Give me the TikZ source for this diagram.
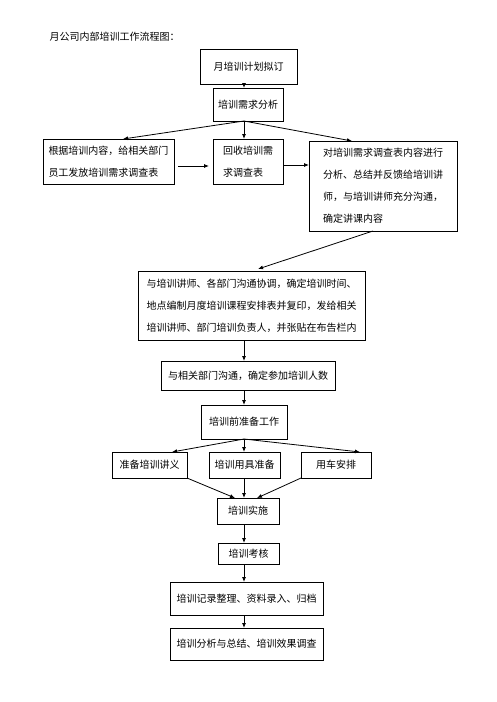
\documentclass[tikz,border=0pt]{standalone}
\usepackage{fontspec}
\setmainfont{Noto Sans CJK SC}
\usetikzlibrary{arrows.meta}

\begin{document}
\begin{tikzpicture}[x=1pt,y=-1pt,->,>={Latex[length=5pt,width=4pt]},line width=0.8pt]
\tikzstyle{box}=[draw,shape=rectangle,inner sep=0pt,outer sep=0pt,align=left,text=black,font=\fontsize{10}{22}\selectfont]
\useasboundingbox (0,0) rectangle (496,702);

\node[anchor=west,font=\fontsize{10}{12}\selectfont] (title) at (46,37) {月公司内部培训工作流程图：};
\coordinate (spine) at (244,0);

\node[box,minimum width=97pt,minimum height=35pt]  (A) at (248.5,66.5) {月培训计划拟订};
\node[box,minimum width=70pt,minimum height=33pt]  (B) at (248,104.5) {培训需求分析};
\node[box,minimum width=131pt,minimum height=45pt] (C) at (108.5,161.5) {根据培训内容，给相关部门\\员工发放培训需求调查表};
\node[box,minimum width=70pt,minimum height=45pt]  (D) at (248,161.5) {回收培训需\\求调查表};
\node[box,minimum width=148pt,minimum height=90pt] (E) at (383,186) {对培训需求调查表内容进行\\分析、总结并反馈给培训讲\\师，与培训讲师充分沟通，\\确定讲课内容};
\node[box,minimum width=227pt,minimum height=69pt] (F) at (251.5,305.5) {与培训讲师、各部门沟通协调，确定培训时间、\\地点编制月度培训课程安排表并复印，发给相关\\培训讲师、部门培训负责人，并张贴在布告栏内};
\node[box,minimum width=174pt,minimum height=29pt] (G) at (248,375.5) {与相关部门沟通，确定参加培训人数};
\node[box,minimum width=86pt,minimum height=34pt]  (H) at (244,422) {培训前准备工作};
\node[box,minimum width=75pt,minimum height=26pt]  (I1) at (149.5,465) {准备培训讲义};
\node[box,minimum width=71pt,minimum height=26pt]  (I2) at (244.5,465) {培训用具准备};
\node[box,minimum width=70pt,minimum height=26pt]  (I3) at (336,465) {用车安排};
\node[box,minimum width=62pt,minimum height=26pt]  (J) at (248,511) {培训实施};
\node[box,minimum width=61pt,minimum height=21pt]  (K) at (248.5,553.5) {培训考核};
\node[box,minimum width=153pt,minimum height=33pt] (L) at (246.5,598.5) {培训记录整理、资料录入、归档};
\node[box,minimum width=153pt,minimum height=32pt] (M) at (246.5,644) {培训分析与总结、培训效果调查};

\path
(A.south -| spine) edge (B.north -| spine)
(B.south -| spine) edge ([xshift=14.5pt]C.north)
(B.south -| spine) edge (D.north -| spine)
(B.south -| spine) edge ([xshift=-31pt]E.north)
([xshift=4pt,yshift=-4.5pt]C.east) edge ([xshift=-4pt,yshift=-4.5pt]D.west)
([yshift=-3.5pt]D.east) edge ([yshift=-3.5pt]D.east -| E.west)
([xshift=-10pt]E.south) edge ([xshift=6.5pt,yshift=2pt]F.north)
(F.south -| spine) edge (G.north -| spine)
(G.south -| spine) edge (H.north -| spine)
(H.south) edge ([xshift=22.5pt]I1.north)
(H.south) edge (H.south |- I2.north)
(H.south) edge ([xshift=24pt]I3.north)
(I1.south east) edge ([xshift=-13pt]J.north)
(I2.south -| spine) edge (J.north -| spine)
(I3.south west) edge ([xshift=9pt]J.north)
(J.south -| spine) edge (K.north -| spine)
(K.south -| spine) edge (L.north -| spine)
(L.south -| spine) edge (M.north -| spine)
;
\end{tikzpicture}
\end{document}
